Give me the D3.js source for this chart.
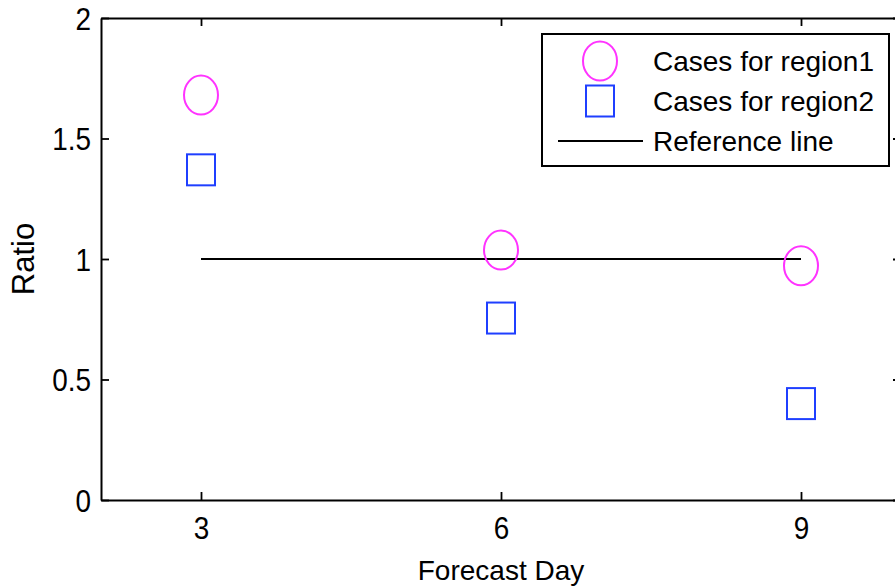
<!DOCTYPE html>
<html>
<head>
<meta charset="utf-8">
<script src="https://cdn.jsdelivr.net/npm/d3@7"></script>
<style>
  body { margin: 0; background: #fff; }
  text { font-family: "Liberation Sans", Arial, sans-serif; fill: #000; }
</style>
</head>
<body>
<div class="chart"></div>
<script>
// data
var days = [3, 6, 9];
var region1 = [1.68, 1.037, 0.972];
var region2 = [1.37, 0.755, 0.40];
var refLine = [1, 1, 1];
var xTicks = [3, 6, 9];
var yTicks = [0, 0.5, 1, 1.5, 2];
var yTickLabels = ['0', '0.5', '1', '1.5', '2'];
var legendLabels = ['Cases for region1', 'Cases for region2', 'Reference line'];

var svgWidth = 895;
var svgHeight = 588;
var margin = { top: 18, left: 101, bottom: 88, right: -6 };
var width = svgWidth - margin.left - margin.right;
var height = svgHeight - margin.top - margin.bottom;

var svg = d3.select('div.chart')
    .append('svg')
    .attr('width', svgWidth)
    .attr('height', svgHeight);

var chart = svg.append('g')
    .attr('transform', 'translate(' + margin.left + ',' + margin.top + ')');

var x = d3.scaleLinear()
    .domain([2, 10])
    .range([0, width]);

var y = d3.scaleLinear()
    .domain([0, 2])
    .range([height, 0]);

var fmt = function (d) { return yTickLabels[yTicks.indexOf(d)]; };

// axes, ticks pointing inward, box on all four sides
var xAxis = d3.axisBottom(x).tickValues(xTicks).tickSizeInner(-8).tickSizeOuter(0).tickPadding(17);
var yAxis = d3.axisLeft(y).tickValues(yTicks).tickFormat(fmt).tickSizeInner(-8).tickSizeOuter(0).tickPadding(10);

var gx = chart.append('g')
    .attr('transform', 'translate(0,' + height + ')')
    .call(xAxis);
var gy = chart.append('g').call(yAxis);
chart.append('g')
    .call(d3.axisTop(x).tickValues(xTicks).tickSizeInner(-8).tickSizeOuter(0).tickFormat(''));
chart.append('g')
    .attr('transform', 'translate(' + width + ',0)')
    .call(d3.axisRight(y).tickValues(yTicks).tickSizeInner(-8).tickSizeOuter(0).tickFormat(''));

chart.selectAll('.domain').attr('stroke', '#000').attr('stroke-width', 2);
chart.selectAll('.tick line').attr('stroke', '#000').attr('stroke-width', 1.8);

// tick labels are a bit taller and narrower than plain Liberation Sans
var squeeze = 0.9;
chart.selectAll('.tick text')
    .style('font-size', '31px')
    .style('font-family', '"Liberation Sans", Arial, sans-serif')
    .attr('fill', '#000')
    .attr('transform', 'scale(' + squeeze + ',1)');
gy.selectAll('.tick text')
    .attr('x', -10 / squeeze)
    .attr('dy', '0.36em');

// reference line
var line = d3.line()
    .x(function (d, i) { return x(days[i]); })
    .y(function (d) { return y(d); });

chart.append('path')
    .datum(refLine)
    .attr('d', line)
    .attr('fill', 'none')
    .attr('stroke', '#000')
    .attr('stroke-width', 2);

// region1 circles
chart.append('g')
    .selectAll('ellipse')
    .data(region1)
    .enter()
    .append('ellipse')
    .attr('cx', function (d, i) { return x(days[i]); })
    .attr('cy', function (d) { return y(d); })
    .attr('rx', 17)
    .attr('ry', 19.5)
    .attr('fill', 'none')
    .attr('stroke', '#ff33ff')
    .attr('stroke-width', 2);

// region2 squares
chart.append('g')
    .selectAll('rect')
    .data(region2)
    .enter()
    .append('rect')
    .attr('x', function (d, i) { return x(days[i]) - 14; })
    .attr('y', function (d) { return y(d) - 15.5; })
    .attr('width', 28)
    .attr('height', 31)
    .attr('fill', 'none')
    .attr('stroke', '#1f3fff')
    .attr('stroke-width', 2);

// axis labels
svg.append('text')
    .attr('x', margin.left + x(6))
    .attr('y', 580)
    .attr('text-anchor', 'middle')
    .style('font-size', '28px')
    .text('Forecast Day');

svg.append('text')
    .attr('transform', 'translate(34,' + (margin.top + y(1)) + ') rotate(-90)')
    .attr('text-anchor', 'middle')
    .style('font-size', '31px')
    .text('Ratio');

// legend
var legend = svg.append('g');
legend.append('rect')
    .attr('x', 542)
    .attr('y', 34)
    .attr('width', 347)
    .attr('height', 132)
    .attr('fill', '#fff')
    .attr('stroke', '#000')
    .attr('stroke-width', 2);

var rowY = [61, 101, 141];
legend.append('ellipse')
    .attr('cx', 600).attr('cy', rowY[0])
    .attr('rx', 17).attr('ry', 19.5)
    .attr('fill', 'none').attr('stroke', '#ff33ff').attr('stroke-width', 2);
legend.append('rect')
    .attr('x', 600 - 14).attr('y', rowY[1] - 15.5)
    .attr('width', 28).attr('height', 31)
    .attr('fill', 'none').attr('stroke', '#1f3fff').attr('stroke-width', 2);
legend.append('line')
    .attr('x1', 558).attr('x2', 643)
    .attr('y1', rowY[2]).attr('y2', rowY[2])
    .attr('stroke', '#000').attr('stroke-width', 2);

legend.selectAll('text.lab')
    .data(legendLabels)
    .enter()
    .append('text')
    .attr('class', 'lab')
    .attr('x', 653)
    .attr('y', function (d, i) { return rowY[i]; })
    .attr('dy', '0.36em')
    .style('font-size', '28px')
    .text(function (d) { return d; });
</script>
</body>
</html>
